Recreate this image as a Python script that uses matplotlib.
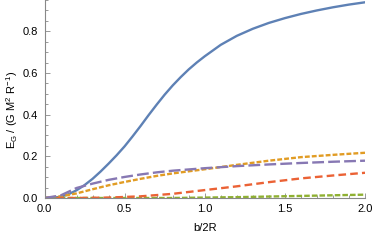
import numpy as np
import matplotlib
matplotlib.use("Agg")
import matplotlib.pyplot as plt
from matplotlib.ticker import MultipleLocator

plt.rcParams["font.family"] = ["Liberation Sans", "DejaVu Sans"]
plt.rcParams["mathtext.fontset"] = "custom"
plt.rcParams["mathtext.rm"] = "Liberation Sans"
plt.rcParams["lines.scale_dashes"] = False

# values
x_blue = [0.0, 0.05, 0.1, 0.15, 0.2, 0.25, 0.3, 0.35, 0.4, 0.45, 0.5, 0.55, 0.6,
          0.65, 0.7, 0.75, 0.8, 0.85, 0.9, 0.95, 1.0, 1.1, 1.2, 1.3, 1.4, 1.5,
          1.6, 1.7, 1.8, 1.9, 2.0]
blue = [0.0, 0.001, 0.006, 0.018, 0.037, 0.062, 0.092, 0.127, 0.165, 0.205, 0.248,
        0.296, 0.346, 0.398, 0.448, 0.496, 0.54, 0.58, 0.617, 0.65, 0.68,
        0.735, 0.778, 0.812, 0.84, 0.863, 0.883, 0.9, 0.915, 0.928, 0.939]

x_mid = [0.0, 0.1, 0.2, 0.3, 0.4, 0.5, 0.6, 0.7, 0.8, 0.9, 1.0,
         1.2, 1.4, 1.6, 1.8, 2.0]
purple = [0.0, 0.012, 0.048, 0.069, 0.087, 0.101, 0.113, 0.123, 0.131, 0.137, 0.143,
          0.153, 0.161, 0.168, 0.174, 0.179]
orange = [0.0, 0.008, 0.022, 0.042, 0.061, 0.077, 0.092, 0.106, 0.118, 0.128, 0.138,
          0.159, 0.179, 0.196, 0.207, 0.217]

x_low = [0.0, 0.2, 0.4, 0.6, 0.8, 1.0, 1.2, 1.4, 1.6, 1.8, 2.0]
red = [0.0, 0.0, 0.002, 0.008, 0.02, 0.038, 0.056, 0.076, 0.094, 0.108, 0.121]
green = [0.0, 0.0, 0.0, 0.0, 0.0, 0.002, 0.004, 0.007, 0.01, 0.013, 0.016]

fig = plt.figure(figsize=(3.74, 2.40), dpi=100)
ax = fig.add_axes([44.5 / 374, 42 / 240, 320.5 / 374, 198 / 240])

ax.plot(x_blue, blue, color="#5E81B5", lw=1.7)
ax.plot(x_mid, orange, color="#E19C24", lw=1.7, dashes=(3.5, 1.5))
ax.plot(x_low, green, color="#8FB032", lw=1.7, dashes=(4, 1.5))
ax.plot(x_low, red, color="#EB6235", lw=1.7, dashes=(5.5, 3))
ax.plot(x_mid, purple, color="#8778B3", lw=1.7, dashes=(8.5, 3))

ax.set_xlim(0, 2.0)
ax.set_ylim(0, 0.95)
for s in ("top", "right"):
    ax.spines[s].set_visible(False)
for s in ("left", "bottom"):
    ax.spines[s].set_color("#888888")
    ax.spines[s].set_linewidth(0.8)

ax.xaxis.set_major_locator(MultipleLocator(0.5))
ax.xaxis.set_minor_locator(MultipleLocator(0.1))
ax.yaxis.set_major_locator(MultipleLocator(0.2))
ax.yaxis.set_minor_locator(MultipleLocator(0.05))
ax.xaxis.set_major_formatter(plt.FormatStrFormatter("%.1f"))
ax.yaxis.set_major_formatter(plt.FormatStrFormatter("%.1f"))
ax.tick_params(which="both", direction="in", color="#888888", width=0.6,
               labelsize=8)
ax.tick_params(axis="x", pad=4)
ax.tick_params(axis="y", pad=5)
ax.tick_params(which="major", length=3.5)
ax.tick_params(which="minor", length=2)

fig.text(205 / 374, 1 - 228 / 240, "b/2R", ha="center", va="center", fontsize=8)
fig.text(12 / 374, 1 - 110 / 240,
         r"E$_\mathregular{G}$ / (G M$^\mathregular{2}$ R$^\mathregular{-1}$)",
         rotation=90, ha="center", va="center", fontsize=8)

fig.savefig("out.png", dpi=100)
